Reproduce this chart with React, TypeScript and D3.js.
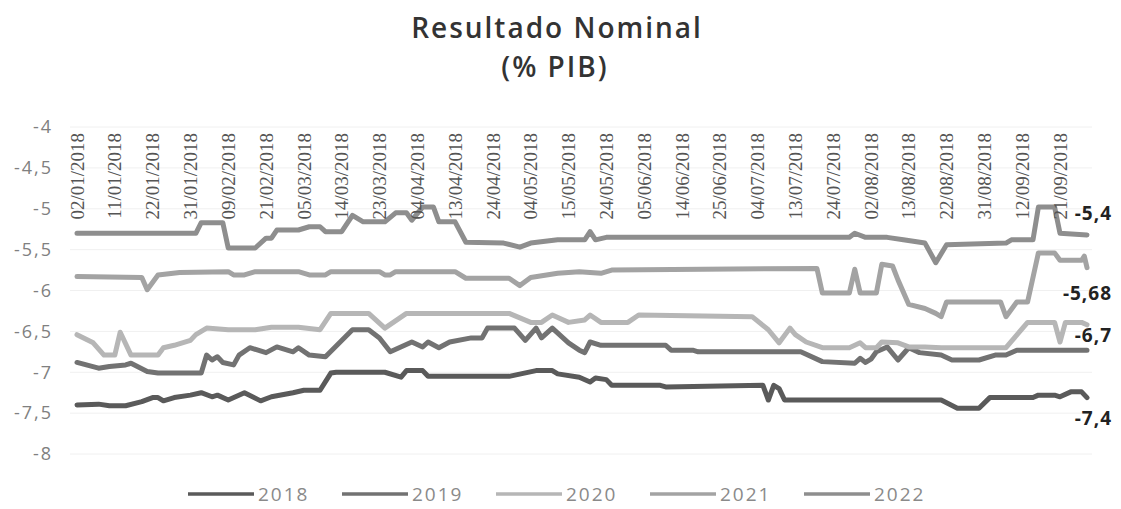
import React from "react";
import * as d3 from "d3";

// trading-day index (0 = 02/01/2018) and value
const s2018: [number, number][] = [
  [0, -7.4], [4, -7.39], [6, -7.41], [9, -7.41], [12, -7.36], [14, -7.31], [15, -7.31], [16, -7.35],
  [18, -7.31], [21, -7.28], [23, -7.25], [25, -7.3], [26, -7.28], [28, -7.34], [31, -7.25], [34, -7.35],
  [36, -7.3], [40, -7.25], [42, -7.22], [45, -7.22], [47, -7.01], [48, -7.0], [57, -7.0], [60, -7.06],
  [61, -6.98], [64, -6.98], [65, -7.05], [80, -7.05], [85, -6.98], [88, -6.98], [89, -7.02], [93, -7.06],
  [95, -7.12], [96, -7.07], [98, -7.09], [99, -7.16], [108, -7.16], [109, -7.18], [127, -7.16], [128, -7.34],
  [129, -7.16], [130, -7.2], [131, -7.34], [160, -7.34], [163, -7.44], [167, -7.44], [169, -7.31], [177, -7.31],
  [178, -7.28], [181, -7.28], [182, -7.3], [184, -7.24], [186, -7.24], [187, -7.31],
];

const s2019: [number, number][] = [
  [0, -6.88], [4, -6.95], [6, -6.93], [9, -6.91], [10, -6.89], [13, -6.99], [15, -7.01], [23, -7.01],
  [24, -6.79], [25, -6.85], [26, -6.81], [27, -6.88], [29, -6.91], [30, -6.79], [32, -6.7], [35, -6.76],
  [37, -6.69], [40, -6.75], [41, -6.7], [43, -6.79], [46, -6.81], [51, -6.48], [54, -6.48], [56, -6.58],
  [58, -6.75], [62, -6.63], [64, -6.69], [65, -6.63], [67, -6.7], [69, -6.63], [73, -6.58], [75, -6.58],
  [76, -6.46], [81, -6.46], [83, -6.61], [85, -6.46], [86, -6.58], [88, -6.46], [91, -6.64], [93, -6.73],
  [94, -6.76], [95, -6.63], [97, -6.67], [109, -6.67], [110, -6.73], [114, -6.73], [115, -6.75], [134, -6.75],
  [138, -6.87], [144, -6.89], [145, -6.83], [146, -6.88], [147, -6.84], [148, -6.75], [150, -6.69], [152, -6.85],
  [154, -6.7], [156, -6.76], [160, -6.79], [162, -6.85], [167, -6.85], [170, -6.79], [172, -6.79], [174, -6.73],
  [187, -6.73],
];

const s2020: [number, number][] = [
  [0, -6.54], [3, -6.64], [5, -6.79], [7, -6.79], [8, -6.51], [10, -6.79], [15, -6.79], [16, -6.7],
  [18, -6.67], [21, -6.61], [22, -6.54], [24, -6.46], [28, -6.48], [33, -6.48], [36, -6.45], [41, -6.45],
  [45, -6.48], [47, -6.28], [54, -6.28], [57, -6.46], [61, -6.28], [80, -6.28], [84, -6.39], [86, -6.39],
  [88, -6.3], [91, -6.39], [94, -6.36], [95, -6.3], [97, -6.39], [102, -6.39], [104, -6.3], [125, -6.32],
  [128, -6.48], [130, -6.64], [132, -6.46], [133, -6.54], [135, -6.63], [138, -6.7], [143, -6.7], [145, -6.64],
  [146, -6.7], [148, -6.7], [149, -6.63], [152, -6.64], [154, -6.69], [157, -6.69], [160, -6.7], [172, -6.7],
  [176, -6.39], [181, -6.39], [182, -6.63], [183, -6.39], [186, -6.39], [187, -6.42],
];

const s2021: [number, number][] = [
  [0, -5.83], [12, -5.84], [13, -5.99], [15, -5.81], [19, -5.78], [28, -5.77], [29, -5.81], [31, -5.81],
  [33, -5.77], [41, -5.77], [43, -5.81], [46, -5.81], [47, -5.77], [56, -5.77], [57, -5.81], [58, -5.81],
  [59, -5.77], [70, -5.77], [72, -5.85], [80, -5.85], [82, -5.94], [84, -5.84], [89, -5.79], [93, -5.77],
  [97, -5.79], [99, -5.75], [137, -5.73], [138, -6.03], [143, -6.03], [144, -5.74], [145, -6.03], [148, -6.03],
  [149, -5.68], [151, -5.7], [152, -5.87], [154, -6.17], [157, -6.22], [159, -6.28], [160, -6.32], [161, -6.14],
  [171, -6.14], [172, -6.32], [174, -6.14], [176, -6.14], [178, -5.54], [181, -5.54], [182, -5.63], [186, -5.63],
  [186.5, -5.58], [187, -5.72],
];

const s2022: [number, number][] = [
  [0, -5.3], [22, -5.3], [23, -5.17], [27, -5.17], [28, -5.48], [33, -5.48], [35, -5.36], [36, -5.36],
  [37, -5.26], [41, -5.26], [43, -5.22], [45, -5.22], [46, -5.28], [49, -5.28], [51, -5.08], [53, -5.16],
  [57, -5.16], [59, -5.05], [61, -5.05], [62, -5.14], [64, -4.98], [66, -4.98], [67, -5.16], [70, -5.16],
  [72, -5.41], [79, -5.42], [82, -5.47], [84, -5.42], [89, -5.38], [94, -5.38], [95, -5.28], [96, -5.38],
  [98, -5.35], [143, -5.35], [144, -5.3], [146, -5.35], [150, -5.35], [153, -5.38], [157, -5.42], [159, -5.66],
  [161, -5.44], [172, -5.42], [173, -5.38], [177, -5.38], [178, -4.98], [181, -4.98], [182, -5.3], [187, -5.32],
];

const dateLabels = [
  "02/01/2018", "11/01/2018", "22/01/2018", "31/01/2018", "09/02/2018", "21/02/2018", "05/03/2018",
  "14/03/2018", "23/03/2018", "04/04/2018", "13/04/2018", "24/04/2018", "04/05/2018", "15/05/2018",
  "24/05/2018", "05/06/2018", "14/06/2018", "25/06/2018", "04/07/2018", "13/07/2018", "24/07/2018",
  "02/08/2018", "13/08/2018", "22/08/2018", "31/08/2018", "12/09/2018", "21/09/2018",
];
const labelStep = 7; // one date label every 7 trading days
const lastDay = 187;

const yTicks = [-4, -4.5, -5, -5.5, -6, -6.5, -7, -7.5, -8];

const years = ["2018", "2019", "2020", "2021", "2022"];
const colors = ["#5a5a5a", "#727272", "#b6b6b6", "#a3a3a3", "#8e8e8e"];
const seriesList = [s2018, s2019, s2020, s2021, s2022];

// value annotations written at the right end of the lines
const endLabels = [
  { text: "-5,4", y: 220 },
  { text: "-5,68", y: 300 },
  { text: "-6,7", y: 342 },
  { text: "-7,4", y: 425 },
];

const sans = "'Open Sans', 'Liberation Sans', sans-serif";

export default function App() {
  const width = 1121;
  const height = 509;

  const x = d3.scaleLinear().domain([0, lastDay]).range([77, 1087]);
  const y = d3.scaleLinear().domain([-8, -4]).range([454, 127]);

  const line = d3
    .line<[number, number]>()
    .x((d) => x(d[0]))
    .y((d) => y(d[1]));

  const fmt = (v: number) => String(v).replace(".", ",");

  return (
    <svg width={width} height={height} style={{ position: "absolute", left: 0, top: 0, background: "#fff" }}>
      {/* title */}
      <text x={557} y={38} textAnchor="middle" fontFamily={sans} fontWeight={600} fontSize={28} fill="#333" letterSpacing={2}>
        Resultado Nominal
      </text>
      <text x={555} y={77} textAnchor="middle" fontFamily={sans} fontWeight={600} fontSize={28} fill="#333" letterSpacing={2}>
        (% PIB)
      </text>

      {/* gridlines + y labels */}
      {yTicks.map((t) => (
        <g key={t}>
          <line x1={70} x2={1092} y1={y(t)} y2={y(t)} stroke="#f0f0f0" strokeWidth={1} />
          <text
            x={53}
            y={y(t)}
            dy="0.35em"
            textAnchor="end"
            fontFamily={sans}
            fontSize={18}
            fill="#808080"
            letterSpacing={2}
          >
            {fmt(t)}
          </text>
        </g>
      ))}

      {/* series */}
      {seriesList.map((s, i) => (
        <path
          key={years[i]}
          d={line(s) || ""}
          fill="none"
          stroke={colors[i]}
          strokeWidth={5}
          strokeLinejoin="round"
          strokeLinecap="round"
        />
      ))}

      {/* date labels, hanging under the top axis */}
      {dateLabels.map((lab, i) => {
        const px = x(i * labelStep);
        return (
          <text
            key={lab}
            transform={`translate(${px},133) rotate(-90)`}
            dy="0.35em"
            textAnchor="end"
            fontFamily="'Liberation Serif', 'DejaVu Serif', serif"
            fontSize={19}
            fill="#555"
          >
            {lab}
          </text>
        );
      })}

      {/* end value labels */}
      {endLabels.map((l) => (
        <text
          key={l.text}
          x={1112}
          y={l.y}
          textAnchor="end"
          fontFamily={sans}
          fontWeight="bold"
          fontSize={19}
          fill="#222"
          letterSpacing={1}
        >
          {l.text}
        </text>
      ))}

      {/* legend */}
      {years.map((yr, i) => {
        const lx = 188 + i * 154;
        return (
          <g key={yr}>
            <line x1={lx} x2={lx + 66} y1={494} y2={494} stroke={colors[i]} strokeWidth={3.5} />
            <text x={lx + 70} y={501} fontFamily={sans} fontSize={19} fill="#8a8a8a" letterSpacing={2}>
              {yr}
            </text>
          </g>
        );
      })}
    </svg>
  );
}
